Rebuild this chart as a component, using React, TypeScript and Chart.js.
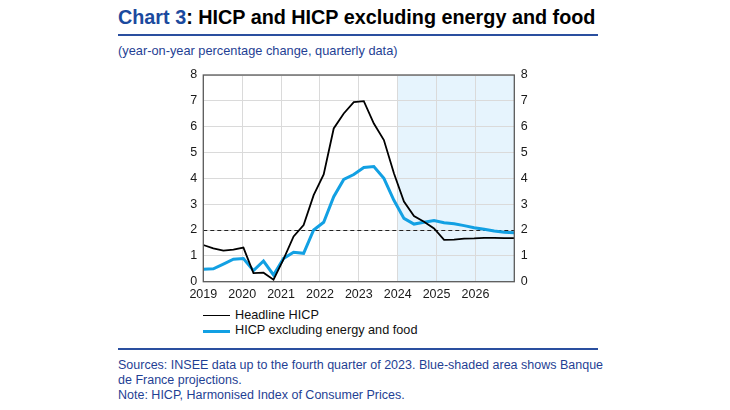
import React, { useEffect, useRef } from "react";
import { Chart, registerables } from "chart.js";

Chart.register(...registerables);

const quarters = [
  "2019Q1", "2019Q2", "2019Q3", "2019Q4",
  "2020Q1", "2020Q2", "2020Q3", "2020Q4",
  "2021Q1", "2021Q2", "2021Q3", "2021Q4",
  "2022Q1", "2022Q2", "2022Q3", "2022Q4",
  "2023Q1", "2023Q2", "2023Q3", "2023Q4",
  "2024Q1", "2024Q2", "2024Q3", "2024Q4",
  "2025Q1", "2025Q2", "2025Q3", "2025Q4",
  "2026Q1", "2026Q2", "2026Q3", "2026Q4",
];

const headlineHICP = [
  1.42, 1.29, 1.2, 1.24, 1.32, 0.33, 0.35, 0.08,
  0.87, 1.75, 2.19, 3.35, 4.15, 5.93, 6.51, 6.95,
  6.99, 6.12, 5.48, 4.2, 3.1, 2.54, 2.32, 2.06,
  1.62, 1.63, 1.67, 1.68, 1.7, 1.7, 1.69, 1.69,
];

const coreHICP = [
  0.48, 0.5, 0.68, 0.87, 0.9, 0.43, 0.8, 0.26,
  0.9, 1.14, 1.1, 2.0, 2.3, 3.29, 3.96, 4.15,
  4.42, 4.46, 4.0, 3.15, 2.45, 2.23, 2.3, 2.37,
  2.28, 2.24, 2.17, 2.09, 2.03, 1.96, 1.91, 1.89,
];

const yearLabels = ["2019", "2020", "2021", "2022", "2023", "2024", "2025", "2026"];
const yearMin = 2019;
const yearMax = 2027;
const projectionStart = 2024;
const targetRate = 2;
const yTicks = [0, 1, 2, 3, 4, 5, 6, 7, 8];

const FONT = '"Liberation Sans", Arial, Helvetica, sans-serif';
const TEXT_BLUE = "#1f3f94";
const RULE_BLUE = "#2a4f9f";
const LINE_BLUE = "#12a0e3";

const decorPlugin = {
  id: "decor",
  beforeDraw(chart: any) {
    const { ctx, chartArea: a, scales } = chart;
    const x0 = scales.x.getPixelForValue(projectionStart);
    ctx.save();
    ctx.fillStyle = "#e6f4fd";
    ctx.fillRect(x0, a.top, a.right - x0, a.bottom - a.top);
    ctx.restore();
  },
  beforeDatasetsDraw(chart: any) {
    const { ctx, chartArea: a, scales } = chart;
    const y = scales.y.getPixelForValue(targetRate);
    ctx.save();
    ctx.strokeStyle = "#222";
    ctx.lineWidth = 1;
    ctx.setLineDash([4, 3]);
    ctx.beginPath();
    ctx.moveTo(a.left, Math.round(y) + 0.5);
    ctx.lineTo(a.right, Math.round(y) + 0.5);
    ctx.stroke();
    ctx.restore();
  },
  afterDatasetsDraw(chart: any) {
    const { ctx, chartArea: a } = chart;
    ctx.save();
    ctx.strokeStyle = "#5a5a5a";
    ctx.lineWidth = 1.3;
    ctx.strokeRect(a.left, a.top, a.right - a.left, a.bottom - a.top);
    ctx.restore();
  },
};

export default function App() {
  const ref = useRef<HTMLCanvasElement | null>(null);

  useEffect(() => {
    if (!ref.current) return;
    Chart.defaults.font.family = FONT;
    const tickFont = { family: FONT, size: 12.5 };
    const chart = new Chart(ref.current, {
      type: "line",
      data: {
        labels: quarters,
        datasets: [
          {
            label: "Headline HICP",
            data: headlineHICP.map((v, i) => ({ x: i, y: v })),
            borderColor: "#000000",
            borderWidth: 1.8,
            pointRadius: 0,
            tension: 0,
            xAxisID: "xq",
            yAxisID: "y",
          },
          {
            label: "HICP excluding energy and food",
            data: coreHICP.map((v, i) => ({ x: i, y: v })),
            borderColor: LINE_BLUE,
            borderWidth: 3,
            pointRadius: 0,
            tension: 0,
            xAxisID: "xq",
            yAxisID: "y",
          },
        ],
      },
      options: {
        animation: false,
        responsive: false,
        layout: { padding: { top: 15, left: 0, right: 0, bottom: 0 } },
        plugins: {
          legend: { display: false },
          tooltip: { enabled: false },
        },
        scales: {
          xq: {
            type: "linear",
            display: false,
            min: 0,
            max: quarters.length - 1,
          },
          x: {
            type: "linear",
            position: "bottom",
            min: yearMin,
            max: yearMax,
            ticks: {
              stepSize: 1,
              padding: 5,
              color: "#1a1a1a",
              font: tickFont,
              maxRotation: 0,
              autoSkip: false,
              callback: (v: any) => (yearLabels.includes(String(v)) ? String(v) : ""),
            },
            grid: { color: "#dadada", lineWidth: 1, drawTicks: false },
            border: { display: false },
            afterFit: (s: any) => {
              s.height = 23.3;
            },
          },
          y: {
            type: "linear",
            position: "left",
            min: 0,
            max: 8,
            afterBuildTicks: (s: any) => {
              s.ticks = yTicks.map((v) => ({ value: v }));
            },
            ticks: { padding: 6, color: "#1a1a1a", font: tickFont },
            grid: { color: "#dadada", lineWidth: 1, drawTicks: false },
            border: { display: false },
            afterFit: (s: any) => {
              s.width = 33.3;
            },
          },
          y2: {
            type: "linear",
            position: "right",
            min: 0,
            max: 8,
            afterBuildTicks: (s: any) => {
              s.ticks = yTicks.map((v) => ({ value: v }));
            },
            ticks: { padding: 6.5, color: "#1a1a1a", font: tickFont },
            grid: { display: false, drawTicks: false },
            border: { display: false },
            afterFit: (s: any) => {
              s.width = 25.7;
            },
          },
        },
      },
      plugins: [decorPlugin],
    });
    return () => chart.destroy();
  }, []);

  const textStyle: React.CSSProperties = {
    position: "absolute",
    fontFamily: FONT,
    whiteSpace: "nowrap",
  };

  return (
    <div style={{ position: "absolute", left: 0, top: 0, width: 730, height: 410, background: "#fff", overflow: "hidden" }}>
      <div style={{ ...textStyle, left: 118, top: 6.6, fontSize: 19.8, lineHeight: "20px", fontWeight: "bold", color: "#000" }}>
        <span style={{ color: "#1b4a9e" }}>Chart 3</span>: HICP and HICP excluding energy and food
      </div>
      <div style={{ position: "absolute", left: 118, top: 34, width: 480, height: 2, background: RULE_BLUE }} />
      <div style={{ ...textStyle, left: 118, top: 45.2, fontSize: 12.8, lineHeight: "12.8px", color: TEXT_BLUE }}>
        (year-on-year percentage change, quarterly data)
      </div>
      <canvas
        ref={ref}
        width={370}
        height={245}
        style={{ position: "absolute", left: 170, top: 60, width: 370, height: 245 }}
      />
      <div style={{ position: "absolute", left: 203, top: 314.5, width: 27, height: 1.8, background: "#000" }} />
      <div style={{ ...textStyle, left: 235, top: 307.5, fontSize: 12.7, lineHeight: "15px", color: "#111" }}>
        Headline HICP
      </div>
      <div style={{ position: "absolute", left: 203, top: 330.3, width: 27, height: 3, background: LINE_BLUE }} />
      <div style={{ ...textStyle, left: 235, top: 323, fontSize: 12.7, lineHeight: "15px", color: "#111" }}>
        HICP excluding energy and food
      </div>
      <div style={{ position: "absolute", left: 118, top: 348, width: 480, height: 2, background: RULE_BLUE }} />
      <div style={{ ...textStyle, left: 118, top: 357.7, fontSize: 12.5, lineHeight: "15px", color: TEXT_BLUE }}>
        Sources: INSEE data up to the fourth quarter of 2023. Blue-shaded area shows Banque
        <br />
        de France projections.
        <br />
        Note: HICP, Harmonised Index of Consumer Prices.
      </div>
    </div>
  );
}
